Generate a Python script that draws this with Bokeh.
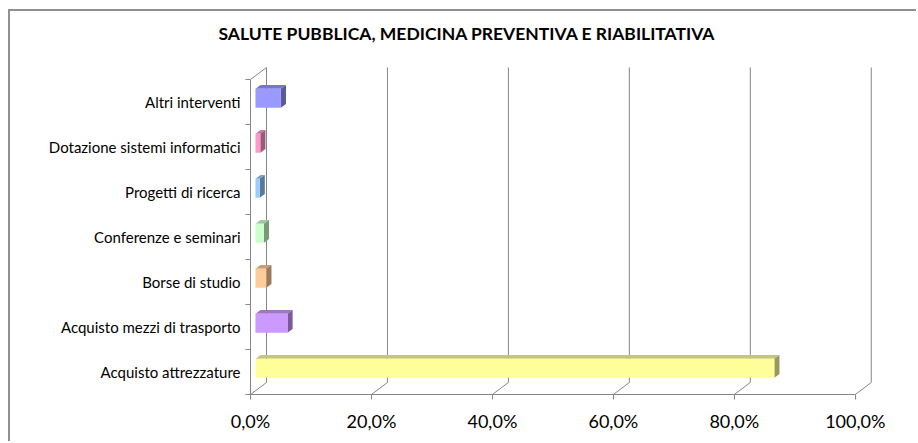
from bokeh.plotting import figure
from bokeh.models import Range1d, FixedTicker, Title
from bokeh.embed import file_html
from bokeh.resources import INLINE

# ---- data (top row first in the picture is last here) ----
categories = ["Acquisto attrezzature", "Acquisto mezzi di trasporto", "Borse di studio",
              "Conferenze e seminari", "Progetti di ricerca",
              "Dotazione sistemi informatici", "Altri interventi"]
values = [85.8, 5.3, 1.8, 1.4, 0.7, 0.8, 4.2]
x_ticks = [0, 20, 40, 60, 80, 100]
x_tick_labels = ["0,0%", "20,0%", "40,0%", "60,0%", "80,0%", "100,0%"]
title_text = "SALUTE PUBBLICA, MEDICINA PREVENTIVA E RIABILITATIVA"

# ---- styles ----
front_colors = ["#FFFF99", "#CC99FF", "#FFCC99", "#CCFFCC", "#99CCFF", "#FF99CC", "#9999FF"]
LINE = "#868686"
FONT = "Lato"


def shade(hex_color, f):
    r, g, b = (int(hex_color[i:i + 2], 16) for i in (1, 3, 5))
    return "#%02x%02x%02x" % (int(r * f), int(g * f), int(b * f))


n = len(categories)
X_END = 105.0
Y_END = 7.6
DX = 16 / 6.048   # depth offset in x data units
DY = 12 / 45.0    # depth offset in y data units
F0, F1 = 0.31, 0.63   # bar depth position (fraction of wall depth)
H = 19 / 45.0         # bar thickness (data units)

p = figure(width=908, height=432, output_backend="svg", toolbar_location=None,
           x_range=Range1d(0, X_END), y_range=Range1d(0, Y_END),
           min_border_left=240, min_border_right=33, min_border_top=41, min_border_bottom=49)
p.styles = {"border-top": "2px solid #909090", "border-left": "2px solid #909090",
            "margin-top": "9px", "margin-left": "8px"}
p.outline_line_color = None
p.xgrid.visible = False
p.ygrid.visible = False
p.background_fill_color = "white"
p.border_fill_color = "white"

# title
p.title = Title(text=title_text, align="left", offset=-32, text_font=FONT,
                text_font_size="17.5px", text_font_style="bold", text_color="#000000",
                standoff=18)

# ---- walls / gridlines ----
fx, fy = [], []
for t in x_ticks:
    fx.append([t, t + DX, t + DX])
    fy.append([0, DY, n + DY])
p.multi_line(xs=fx, ys=fy, line_color=LINE, line_width=1)
# left wall top edge
p.multi_line(xs=[[0, DX]], ys=[[n, n + DY]], line_color=LINE, line_width=1)

# ---- bars ----
for i, (v, c) in enumerate(zip(values, front_colors)):
    cy = i + 0.5
    b0 = cy - H / 2
    t0 = cy + H / 2
    x0f, x0b = F0 * DX, F1 * DX
    y_f, y_b = F0 * DY, F1 * DY
    # top face
    p.patch([x0f, v + x0f, v + x0b, x0b], [t0 + y_f, t0 + y_f, t0 + y_b, t0 + y_b],
            fill_color=shade(c, 0.78), line_color=None)
    # side face
    p.patch([v + x0f, v + x0b, v + x0b, v + x0f], [b0 + y_f, b0 + y_b, t0 + y_b, t0 + y_f],
            fill_color=shade(c, 0.6), line_color=None)
    # front face
    p.quad(left=[x0f], right=[v + x0f], bottom=[b0 + y_f], top=[t0 + y_f],
           fill_color=c, line_color=None)

# ---- axes ----
xa = p.xaxis[0]
xa.ticker = FixedTicker(ticks=x_ticks)
xa.major_label_overrides = {t: s for t, s in zip(x_ticks, x_tick_labels)}
xa.bounds = (0, 100)
xa.axis_line_color = LINE
xa.major_tick_line_color = LINE
xa.major_tick_out = 5
xa.major_tick_in = 0
xa.minor_tick_line_color = None
xa.major_label_standoff = 10
xa.major_label_text_font = FONT
xa.major_label_text_font_size = "18px"
xa.major_label_text_color = "#000000"

ya = p.yaxis[0]
centers = [i + 0.5 for i in range(n)]
ya.ticker = FixedTicker(ticks=centers, minor_ticks=list(range(n + 1)))
ya.major_label_overrides = {c: s for c, s in zip(centers, categories)}
ya.bounds = (0, n)
ya.axis_line_color = LINE
ya.major_tick_line_color = None
ya.major_tick_out = 0
ya.major_tick_in = 0
ya.minor_tick_line_color = LINE
ya.minor_tick_out = 5
ya.minor_tick_in = 0
ya.major_label_standoff = 5
ya.major_label_text_font = FONT
ya.major_label_text_font_size = "15px"
ya.major_label_text_color = "#000000"

open("out.html", "w").write(file_html(p, INLINE))
